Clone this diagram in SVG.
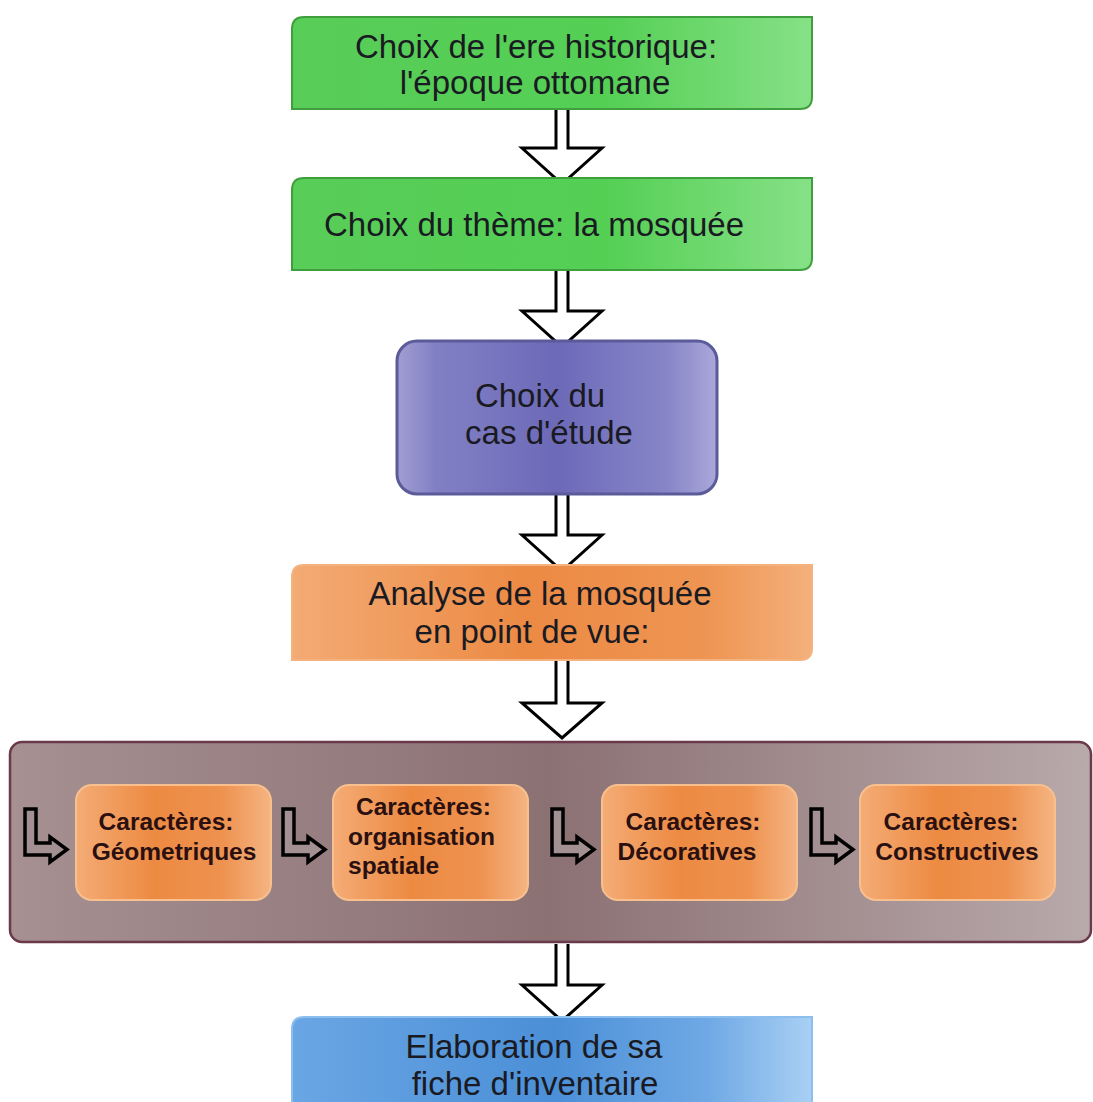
<svg xmlns="http://www.w3.org/2000/svg" width="1093" height="1102" viewBox="0 0 1093 1102">
<defs>
<linearGradient id="gGreen" x1="0" y1="0" x2="1" y2="0">
<stop offset="0" stop-color="#58cd58"/><stop offset="0.6" stop-color="#54cf54"/><stop offset="1" stop-color="#86e186"/>
</linearGradient>
<linearGradient id="gPurple" x1="0" y1="0" x2="1" y2="0">
<stop offset="0" stop-color="#a09ed2"/><stop offset="0.12" stop-color="#8280c4"/><stop offset="0.5" stop-color="#6c6ab8"/><stop offset="0.85" stop-color="#8886c8"/><stop offset="1" stop-color="#aaa8da"/>
</linearGradient>
<linearGradient id="gOrange" x1="0" y1="0" x2="1" y2="0">
<stop offset="0" stop-color="#f3ab74"/><stop offset="0.45" stop-color="#ec8a44"/><stop offset="0.8" stop-color="#ee9553"/><stop offset="1" stop-color="#f4b07c"/>
</linearGradient>
<linearGradient id="gInner" x1="0" y1="0" x2="1" y2="0">
<stop offset="0" stop-color="#f4ac76"/><stop offset="0.4" stop-color="#ed8a42"/><stop offset="0.75" stop-color="#ee9250"/><stop offset="1" stop-color="#f5b482"/>
</linearGradient>
<linearGradient id="gBlue" x1="0" y1="0" x2="1" y2="0">
<stop offset="0" stop-color="#6aa6e4"/><stop offset="0.5" stop-color="#4b8fd7"/><stop offset="0.8" stop-color="#6fa9e5"/><stop offset="1" stop-color="#a9d0f4"/>
</linearGradient>
<linearGradient id="gContainer" x1="0" y1="0" x2="1" y2="0">
<stop offset="0" stop-color="#a69092"/><stop offset="0.5" stop-color="#8c7173"/><stop offset="1" stop-color="#b8a9ab"/>
</linearGradient>
</defs>
<style>
.t{font-family:"Liberation Sans",Arial,sans-serif;font-size:33px;fill:#1a1a22;text-anchor:middle}
.b{font-family:"Liberation Sans",Arial,sans-serif;font-size:24.5px;font-weight:bold;fill:#2a1010;text-anchor:middle}
.bl{font-family:"Liberation Sans",Arial,sans-serif;font-size:24.5px;font-weight:bold;fill:#2a1010}
.blk{fill:#ffffff;stroke:#000;stroke-width:3;stroke-linejoin:miter}
.bent{fill:#a39092;stroke:#000;stroke-width:3.5;stroke-linejoin:miter}
.inner{fill:url(#gInner);stroke:#f7c08e;stroke-width:2}
</style>
<g id="connectors">
<path class="blk" d="M556,109 V148 H522 L562,184 L602,148 H568 V109"/>
<path class="blk" d="M556,270 V311 H522 L562,347 L602,311 H568 V270"/>
<path class="blk" d="M556,494 V535 H522 L562,571 L602,535 H568 V494"/>
<path class="blk" d="M556,660 V703 H522 L562,738 L602,703 H568 V660"/>
<path class="blk" d="M556,944 V985 H522 L562,1021 L602,985 H568 V944"/>
</g>
<g id="n1">
<path d="M304,17 H812 V97 Q812,109 800,109 H292 V29 Q292,17 304,17 Z" fill="url(#gGreen)" stroke="#3f9f3f" stroke-width="2"/>
<text class="t" x="536" y="58">Choix de l'ere historique:</text>
<text class="t" x="535" y="94">l'époque ottomane</text>
</g>
<g id="n2">
<path d="M304,178 H812 V258 Q812,270 800,270 H292 V190 Q292,178 304,178 Z" fill="url(#gGreen)" stroke="#3f9f3f" stroke-width="2"/>
<text class="t" x="534" y="236">Choix du thème: la mosquée</text>
</g>
<g id="n3">
<rect x="397" y="341" width="320" height="153" rx="20" fill="url(#gPurple)" stroke="#5b5b99" stroke-width="3"/>
<text class="t" x="540" y="407">Choix du</text>
<text class="t" x="549" y="444">cas d'étude</text>
</g>
<g id="n4">
<path d="M304,565 H812 V648 Q812,660 800,660 H292 V577 Q292,565 304,565 Z" fill="url(#gOrange)" stroke="#f4b27e" stroke-width="2"/>
<text class="t" x="540" y="605">Analyse de la mosquée</text>
<text class="t" x="532" y="643">en point de vue:</text>
</g>
<g id="n5">
<rect x="10" y="742" width="1081" height="200" rx="12" fill="url(#gContainer)" stroke="#6a3a4a" stroke-width="2.5"/>
</g>
<g id="bent-connectors">
<path class="bent" d="M25,809 H36 V843 H50 V837 L67,849.5 L50,862 V855 H25 Z"/>
<path class="bent" d="M283,809 H294 V843 H308 V837 L325,849.5 L308,862 V855 H283 Z"/>
<path class="bent" d="M552,809 H563 V843 H577 V837 L594,849.5 L577,862 V855 H552 Z"/>
<path class="bent" d="M811,809 H822 V843 H836 V837 L853,849.5 L836,862 V855 H811 Z"/>
</g>
<g id="n6">
<rect class="inner" x="76" y="785" width="195" height="115" rx="16"/>
<text class="b" x="166" y="830">Caractères:</text>
<text class="b" x="174" y="860">Géometriques</text>
</g>
<g id="n7">
<rect class="inner" x="333" y="785" width="195" height="115" rx="16"/>
<text class="bl" x="356" y="815">Caractères:</text>
<text class="bl" x="348" y="845">organisation</text>
<text class="bl" x="348" y="874">spatiale</text>
</g>
<g id="n8">
<rect class="inner" x="602" y="785" width="195" height="115" rx="16"/>
<text class="b" x="693" y="830">Caractères:</text>
<text class="b" x="687" y="860">Décoratives</text>
</g>
<g id="n9">
<rect class="inner" x="860" y="785" width="195" height="115" rx="16"/>
<text class="b" x="951" y="830">Caractères:</text>
<text class="b" x="957" y="860">Constructives</text>
</g>
<g id="n10">
<path d="M304,1017 H812 V1100 Q812,1112 800,1112 H292 V1029 Q292,1017 304,1017 Z" fill="url(#gBlue)" stroke="#8cbfee" stroke-width="2"/>
<text class="t" x="534" y="1058">Elaboration de sa</text>
<text class="t" x="535" y="1095">fiche d'inventaire</text>
</g>
</svg>
